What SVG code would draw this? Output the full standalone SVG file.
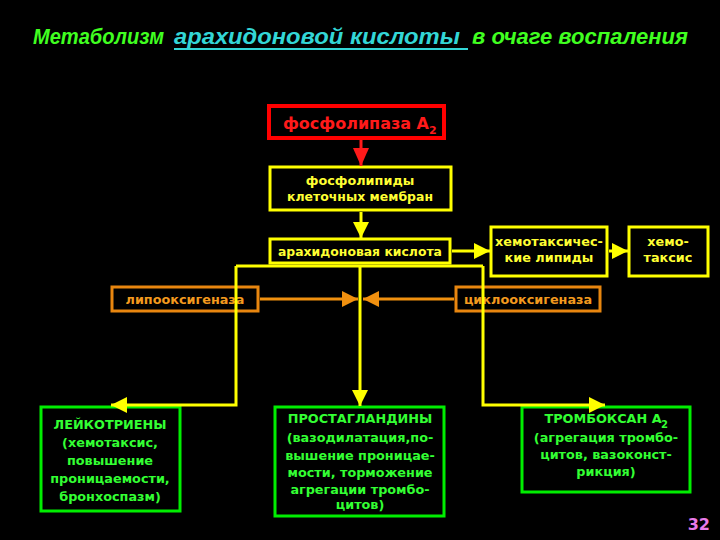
<svg xmlns="http://www.w3.org/2000/svg" width="720" height="540" viewBox="0 0 720 540">
<style>
.bt{font-family:"DejaVu Sans",Verdana,sans-serif;font-weight:bold;font-size:12.8px;text-anchor:middle}
.y{fill:#ffff33}
.g{fill:#33ff33}
.o{fill:#f39a1e}
.ttl{font-family:"Liberation Sans",Arial,sans-serif;font-style:italic;font-weight:bold;font-size:22px}
.ybox{fill:#000;stroke:#ffff00;stroke-width:3}
.gbox{fill:#000;stroke:#00ee00;stroke-width:3}
.obox{fill:#000;stroke:#e8860f;stroke-width:3}
.yl{fill:none;stroke:#ffff00;stroke-width:3}
.ol{fill:none;stroke:#f0900f;stroke-width:3}
</style>
<defs>
<marker id="ay" markerUnits="userSpaceOnUse" markerWidth="20" markerHeight="18" refX="16" refY="8" orient="auto"><path d="M0,0 L16,8 L0,16 Z" fill="#ffff00"/></marker>
<marker id="ar" markerUnits="userSpaceOnUse" markerWidth="20" markerHeight="18" refX="18" refY="8" orient="auto"><path d="M0,0 L18,8 L0,16 Z" fill="#ff1a1a"/></marker>
<marker id="ao" markerUnits="userSpaceOnUse" markerWidth="20" markerHeight="18" refX="16" refY="8" orient="auto"><path d="M0,0 L16,8 L0,16 Z" fill="#f0900f"/></marker>
</defs>
<rect width="720" height="540" fill="#000"/>
<g id="title">
<text class="ttl" y="44" fill="#40ff20"><tspan x="33" textLength="131" lengthAdjust="spacingAndGlyphs">Метаболизм</tspan> <tspan x="174" fill="#33d6d6" textLength="286" lengthAdjust="spacingAndGlyphs">арахидоновой кислоты</tspan> <tspan x="472" textLength="216" lengthAdjust="spacingAndGlyphs">в очаге воспаления</tspan></text>
<line x1="174" y1="49" x2="468" y2="49" stroke="#33d6d6" stroke-width="2"/>
</g>
<g id="pla2">
<rect x="269" y="106" width="175" height="32" fill="#000" stroke="#ff0000" stroke-width="4"/>
<text x="283" y="129" font-family="'DejaVu Sans',Verdana,sans-serif" font-weight="bold" font-size="16" fill="#ff1a1a" textLength="146" lengthAdjust="spacingAndGlyphs">фосфолипаза А</text><text x="429" y="134" font-family="'DejaVu Sans',Verdana,sans-serif" font-weight="bold" font-size="11" fill="#ff1a1a">2</text>
</g>
<g id="phospholipids">
<rect x="270" y="167" width="181" height="43" class="ybox"/>
<text class="bt y" x="360" y="185">фосфолипиды</text>
<text class="bt y" x="360" y="201" textLength="146" lengthAdjust="spacingAndGlyphs">клеточных мембран</text>
</g>
<g id="arachidonic">
<rect x="270" y="239" width="180" height="24" class="ybox"/>
<text class="bt y" x="360" y="256" textLength="164" lengthAdjust="spacingAndGlyphs">арахидоновая кислота</text>
</g>
<g id="chemolipids">
<rect x="491" y="227" width="116" height="49" class="ybox"/>
<text class="bt y" x="549" y="246">хемотаксичес-</text>
<text class="bt y" x="549" y="262">кие липиды</text>
</g>
<g id="chemotaxis">
<rect x="629" y="227" width="79" height="49" class="ybox"/>
<text class="bt y" x="668" y="246">хемо-</text>
<text class="bt y" x="668" y="262">таксис</text>
</g>
<g id="lipox">
<rect x="112" y="287" width="146" height="24" class="obox"/>
<text class="bt o" x="185" y="304">липооксигеназа</text>
</g>
<g id="cyclox">
<rect x="456" y="287" width="144" height="24" class="obox"/>
<text class="bt o" x="528" y="304">циклооксигеназа</text>
</g>
<g id="leuko">
<rect x="41" y="407" width="139" height="104" class="gbox"/>
<text class="bt g" x="110" y="429">ЛЕЙКОТРИЕНЫ</text>
<text class="bt g" x="110" y="447">(хемотаксис,</text>
<text class="bt g" x="110" y="465">повышение</text>
<text class="bt g" x="110" y="483">проницаемости,</text>
<text class="bt g" x="110" y="501">бронхоспазм)</text>
</g>
<g id="prosta">
<rect x="275" y="407" width="169" height="109" class="gbox"/>
<text class="bt g" x="360" y="423">ПРОСТАГЛАНДИНЫ</text>
<text class="bt g" x="360" y="442">(вазодилатация,по-</text>
<text class="bt g" x="360" y="460">вышение проницае-</text>
<text class="bt g" x="360" y="477">мости, торможение</text>
<text class="bt g" x="360" y="494">агрегации тромбо-</text>
<text class="bt g" x="360" y="509">цитов)</text>
</g>
<g id="thrombox">
<rect x="522" y="407" width="168" height="85" class="gbox"/>
<text class="bt g" x="603" y="423">ТРОМБОКСАН А</text><text x="661" y="428" font-family="'DejaVu Sans',sans-serif" font-weight="bold" font-size="10" fill="#33ff33">2</text>
<text class="bt g" x="606" y="442">(агрегация тромбо-</text>
<text class="bt g" x="606" y="459">цитов, вазоконст-</text>
<text class="bt g" x="606" y="476">рикция)</text>
</g>
<g id="connectors">
<line x1="361" y1="140" x2="361" y2="166" stroke="#ff1a1a" stroke-width="3" marker-end="url(#ar)"/>
<line x1="361" y1="212" x2="361" y2="238" class="yl" marker-end="url(#ay)"/>
<line x1="452" y1="251" x2="490" y2="251" class="yl" marker-end="url(#ay)"/>
<line x1="609" y1="251" x2="628" y2="251" class="yl" marker-end="url(#ay)"/>
<path d="M236,266 H483" class="yl"/>
<path d="M236,266 V405 H111" class="yl" marker-end="url(#ay)"/>
<path d="M360,266 V406" class="yl" marker-end="url(#ay)"/>
<path d="M483,266 V405 H605" class="yl" marker-end="url(#ay)"/>
<line x1="260" y1="299" x2="358" y2="299" class="ol" marker-end="url(#ao)"/>
<line x1="454" y1="299" x2="363" y2="299" class="ol" marker-end="url(#ao)"/>
</g>
<text x="710" y="530" font-family="'DejaVu Sans',sans-serif" font-weight="bold" font-size="16" fill="#e87ae8" text-anchor="end">32</text>
</svg>
